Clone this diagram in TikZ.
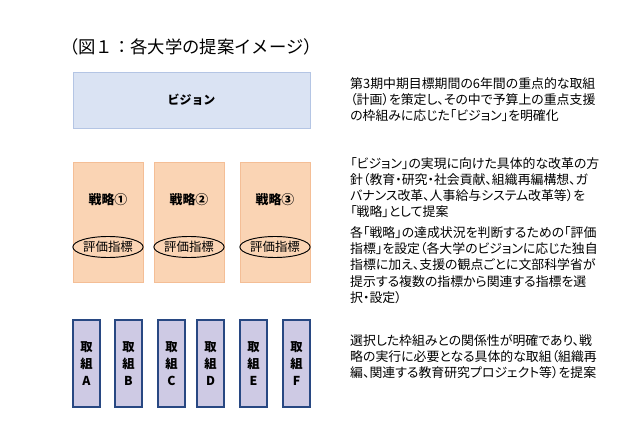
\documentclass[tikz,border=0pt]{standalone}
\usepackage{fontspec}
\setmainfont{Noto Sans CJK JP}
\newfontfamily\notefont[RawFeature=+palt]{Noto Sans CJK JP}
\definecolor{visionBlue}{RGB}{218,227,243}
\definecolor{visionEdge}{RGB}{180,197,228}
\definecolor{planPeach}{RGB}{250,212,180}
\definecolor{planEdge}{RGB}{244,190,150}
\definecolor{taskLilac}{RGB}{206,202,228}
\definecolor{taskEdge}{RGB}{40,72,130}
\usetikzlibrary{shapes.geometric,positioning}

\begin{document}
\begin{tikzpicture}[x=0.03cm,y=-0.03cm,
    every node/.style={font=\fontsize{10.2}{13.6}\selectfont},
    visionbox/.style={draw=visionEdge,fill=visionBlue,line width=0.8pt},
    planbox/.style={draw=planEdge,fill=planPeach,line width=0.6pt},
    taskbox/.style={draw=taskEdge,fill=taskLilac,line width=1.2pt},
    notetext/.style={anchor=north west,align=left,inner sep=0pt,font=\notefont\fontsize{11}{13.9}\selectfont}]
        \useasboundingbox (0,0) rectangle (640,426);
        % Title
        \node[font=\fontsize{14.8}{16}\selectfont,anchor=west,inner sep=0pt] (title) at (61,47) {（図１：各大学の提案イメージ）};
        % Vision
        \draw[visionbox] (73,72) rectangle (310,128);
        \node[font=\fontsize{10.2}{13.6}\selectfont\bfseries] (vision) at (191.5,100) {ビジョン};
        % Strategies
        \foreach \i/\x in {1/73,2/154,3/240} {
          \draw[planbox] (\x,162) rectangle ({\x+70},282);
          \node[font=\fontsize{11}{13}\selectfont\bfseries] (plan\i) at ({\x+35},200) {戦略\ifcase\i\or ①\or ②\or ③\fi};
          \node[ellipse,draw,thick,inner sep=0pt,minimum width=58*0.03cm,minimum height=21*0.03cm,font=\fontsize{10.6}{13}\selectfont] (index\i) at ({\x+35},247) {評価指標};
        }
        % Tasks
        \foreach \t/\x in {A/73,B/115,C/158,D/197,E/240,F/283} {
          \draw[taskbox] (\x,320) rectangle ({\x+27},407);
          \node[align=center,font=\fontsize{10.5}{14.5}\selectfont\bfseries] (task\t) at ({\x+13.5},364) {取\\組\\\t};
        }
        % Notes
        \node[notetext] (note1) at (350,77) {第3期中期目標期間の6年間の重点的な取組\\（計画）を策定し、その中で予算上の重点支援\\の枠組みに応じた「ビジョン」を明確化};
        \node[notetext] (note2) at (350,157) {「ビジョン」の実現に向けた具体的な改革の方\\針（教育・研究・社会貢献、組織再編構想、ガ\\バナンス改革、人事給与システム改革等）を\\「戦略」として提案};
        \node[notetext] (note3) at (350,226) {各「戦略」の達成状況を判断するための「評価\\指標」を設定（各大学のビジョンに応じた独自\\指標に加え、支援の観点ごとに文部科学省が\\提示する複数の指標から関連する指標を選\\択・設定）};
        \node[notetext] (note4) at (350,334) {選択した枠組みとの関係性が明確であり、戦\\略の実行に必要となる具体的な取組（組織再\\編、関連する教育研究プロジェクト等）を提案};
      \end{tikzpicture}
\end{document}
